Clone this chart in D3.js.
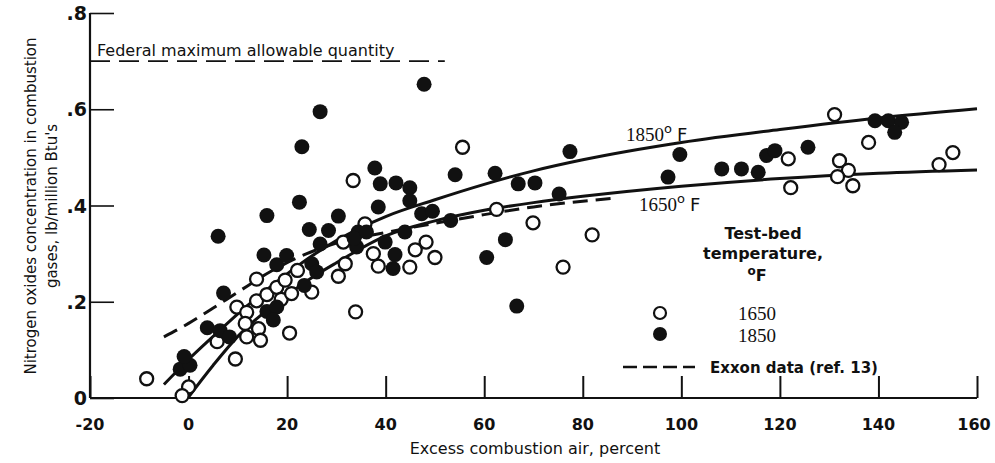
<!DOCTYPE html>
<html>
<head>
<meta charset="utf-8">
<script src="https://cdn.jsdelivr.net/npm/d3@7"></script>
<style>
  html, body { margin: 0; padding: 0; background: #fff; }
  svg { display: block; }
  text { font-family: "DejaVu Sans", "Liberation Sans", sans-serif; fill: #111; }
</style>
</head>
<body>
<svg id="chart" width="995" height="463"></svg>
<script>
// ---- data ----
const xTicks = [-20, 0, 20, 40, 60, 80, 100, 120, 140, 160];
const yTicks = [0, 0.2, 0.4, 0.6, 0.8];
const yTickLabels = ["0", ".2", ".4", ".6", ".8"];

// 1650 F test-bed temperature (open circles): [excess air %, lb/million Btu]
const open1650 = [
  [-8.5, 0.040], [0.0, 0.023], [-1.3, 0.005], [5.8, 0.117], [9.5, 0.081],
  [9.8, 0.189], [11.8, 0.178], [11.5, 0.155], [13.8, 0.202], [13.8, 0.247],
  [11.8, 0.127], [14.2, 0.144], [14.6, 0.120], [15.9, 0.215], [17.9, 0.230],
  [18.8, 0.205], [19.6, 0.245], [20.9, 0.217], [20.5, 0.135], [22.1, 0.265],
  [25.0, 0.220], [30.4, 0.253], [31.4, 0.324], [31.8, 0.279], [33.4, 0.452],
  [33.9, 0.179], [35.8, 0.362], [37.5, 0.300], [38.5, 0.274], [46.0, 0.308],
  [48.2, 0.324], [50.0, 0.292], [44.9, 0.272], [55.6, 0.521], [62.5, 0.392],
  [69.9, 0.364], [76.0, 0.272], [81.9, 0.339], [121.7, 0.497], [122.2, 0.437],
  [131.1, 0.589], [132.1, 0.493], [133.9, 0.473], [131.7, 0.460], [134.8, 0.441],
  [138.0, 0.531], [152.3, 0.485], [155.1, 0.510]
];

// 1850 F test-bed temperature (filled circles)
const filled1850 = [
  [-1.7, 0.060], [0.3, 0.068], [-0.9, 0.086], [3.8, 0.146], [6.4, 0.140],
  [8.3, 0.127], [6.0, 0.336], [7.1, 0.218], [15.3, 0.297], [15.9, 0.379],
  [17.9, 0.277], [19.9, 0.296], [22.5, 0.407], [23.0, 0.522], [26.7, 0.595],
  [24.5, 0.350], [28.4, 0.348], [26.7, 0.320], [25.0, 0.279], [26.0, 0.262],
  [23.5, 0.234], [15.9, 0.180], [17.9, 0.189], [17.2, 0.162], [30.4, 0.378],
  [34.4, 0.345], [34.1, 0.314], [33.6, 0.332], [36.1, 0.345], [37.8, 0.478],
  [38.9, 0.445], [38.5, 0.397], [42.1, 0.447], [44.9, 0.437], [44.9, 0.410],
  [47.3, 0.383], [49.5, 0.388], [47.8, 0.652], [39.9, 0.324], [43.9, 0.345],
  [41.9, 0.298], [41.5, 0.269], [53.2, 0.369], [54.1, 0.464], [60.5, 0.292],
  [62.2, 0.467], [64.3, 0.329], [66.6, 0.191], [66.9, 0.445], [70.3, 0.447],
  [75.2, 0.424], [77.4, 0.512], [97.3, 0.459], [99.7, 0.506], [108.2, 0.476],
  [112.2, 0.476], [115.6, 0.469], [117.3, 0.504], [119.0, 0.514], [125.7, 0.521],
  [139.3, 0.576], [142.0, 0.576], [144.7, 0.573], [143.3, 0.552]
];

// faired curves
const curve1850 = [
  [-5, 0.028], [0, 0.080], [5, 0.128], [10, 0.175], [15, 0.218], [20, 0.258],
  [25, 0.295], [30, 0.327], [40, 0.377], [50, 0.412], [60, 0.444], [70, 0.472],
  [80, 0.495], [100, 0.531], [120, 0.558], [140, 0.582], [160, 0.601]
];
const curve1650 = [
  [0, 0.002], [5, 0.068], [10, 0.128], [15, 0.175], [20, 0.214], [25, 0.250],
  [30, 0.281], [40, 0.337], [50, 0.368], [60, 0.390], [70, 0.406], [80, 0.419],
  [100, 0.440], [120, 0.456], [140, 0.467], [160, 0.474]
];
const exxon = [
  [-5, 0.127], [0, 0.155], [5, 0.187], [10, 0.220], [17, 0.265], [24, 0.300],
  [30, 0.322], [40, 0.344], [50, 0.363], [60, 0.381], [70, 0.397], [86, 0.415]
];
const federalLimit = 0.7;
const federalExtent = [-20, 52];

// ---- drawing ----
const svg = d3.select("#chart");
const x = d3.scaleLinear().domain([-20, 160]).range([90, 977]);
const y = d3.scaleLinear().domain([0, 0.8]).range([398, 13]);

const line = d3.line().x(d => x(d[0])).y(d => y(d[1])).curve(d3.curveMonotoneX);

// axes frame
const g = svg.append("g");
g.append("line").attr("x1", x(-20)).attr("x2", x(-20)).attr("y1", y(0.8)).attr("y2", y(0))
  .attr("stroke", "#111").attr("stroke-width", 2.2);
g.append("line").attr("x1", x(-20)).attr("x2", x(160)).attr("y1", y(0)).attr("y2", y(0))
  .attr("stroke", "#111").attr("stroke-width", 1.8);

// x axis (ticks pointing inward)
const xAxis = d3.axisTop(x).tickValues(xTicks).tickSize(22).tickFormat("");
const xg = svg.append("g").attr("transform", `translate(0,${y(0)})`).call(xAxis);
xg.select(".domain").remove();
xg.selectAll(".tick line").attr("stroke", "#111").attr("stroke-width", 2);
svg.append("g").selectAll("text").data(xTicks).join("text")
  .attr("x", d => x(d) - (d === 160 ? 3 : 0)).attr("y", 430)
  .attr("text-anchor", "middle")
  .style("font-size", "16px").style("font-weight", "bold")
  .text(d => d);

// y axis (ticks pointing inward)
const yAxis = d3.axisRight(y).tickValues(yTicks).tickSize(24).tickFormat("");
const yg = svg.append("g").attr("transform", `translate(${x(-20)},0)`).call(yAxis);
yg.select(".domain").remove();
yg.selectAll(".tick line").attr("stroke", "#111").attr("stroke-width", 1.6);
svg.append("g").selectAll("text").data(yTicks).join("text")
  .attr("x", 87).attr("y", d => y(d) + 7)
  .attr("text-anchor", "end")
  .style("font-size", "19px").style("font-weight", "bold")
  .text((d, i) => yTickLabels[i]);

// axis titles
svg.append("text")
  .attr("transform", "translate(36,206) rotate(-90)")
  .attr("text-anchor", "middle")
  .style("font-size", "15px")
  .text("Nitrogen oxides concentration in combustion");
svg.append("text")
  .attr("transform", "translate(57,206) rotate(-90)")
  .attr("text-anchor", "middle")
  .style("font-size", "15px")
  .text("gases, lb/million Btu's");
svg.append("text")
  .attr("x", 535).attr("y", 454)
  .attr("text-anchor", "middle")
  .style("font-size", "16px")
  .text("Excess combustion air, percent");

// federal limit
svg.append("line")
  .attr("x1", x(federalExtent[0])).attr("x2", x(federalExtent[1]))
  .attr("y1", y(federalLimit)).attr("y2", y(federalLimit))
  .attr("stroke", "#111").attr("stroke-width", 1.6).attr("stroke-dasharray", "20,9");
svg.append("text")
  .attr("x", 97).attr("y", y(federalLimit) - 5)
  .style("font-size", "16px")
  .text("Federal maximum allowable quantity");

// curves
svg.append("path").datum(exxon).attr("d", line)
  .attr("fill", "none").attr("stroke", "#111").attr("stroke-width", 3)
  .attr("stroke-dasharray", "15,8");
svg.append("path").datum(curve1850).attr("d", line)
  .attr("fill", "none").attr("stroke", "#111").attr("stroke-width", 3);
svg.append("path").datum(curve1650).attr("d", line)
  .attr("fill", "none").attr("stroke", "#111").attr("stroke-width", 3);

// points
svg.append("g").selectAll("circle").data(open1650).join("circle")
  .attr("cx", d => x(d[0])).attr("cy", d => y(d[1])).attr("r", 6.5)
  .attr("fill", "#fff").attr("stroke", "#111").attr("stroke-width", 2.3);
svg.append("g").selectAll("circle").data(filled1850).join("circle")
  .attr("cx", d => x(d[0])).attr("cy", d => y(d[1])).attr("r", 7.5)
  .attr("fill", "#111");

// curve labels
function tempLabel(xp, yp, num) {
  const t = svg.append("text").attr("x", xp).attr("y", yp)
    .style("font-family", "'Liberation Serif', serif").style("font-size", "19px");
  t.append("tspan").text(num);
  t.append("tspan").attr("dy", -8).style("font-size", "13px")
    .style("font-family", "'DejaVu Sans', sans-serif").text("o");
  t.append("tspan").attr("dy", 8).attr("dx", 5)
    .style("font-family", "'DejaVu Sans', sans-serif").style("font-size", "18px").text("F");
}
tempLabel(626, 141, "1850");
tempLabel(639, 211, "1650");

// legend
const lg = svg.append("g");
lg.append("text").attr("x", 763).attr("y", 239).attr("text-anchor", "middle")
  .style("font-size", "16px").style("font-weight", "bold").text("Test-bed");
lg.append("text").attr("x", 763).attr("y", 259).attr("text-anchor", "middle")
  .style("font-size", "16px").style("font-weight", "bold").text("temperature,");
const of = lg.append("text").attr("x", 757).attr("y", 281).attr("text-anchor", "middle")
  .style("font-size", "16px").style("font-weight", "bold");
of.append("tspan").attr("dy", -6).style("font-size", "12px").text("o");
of.append("tspan").attr("dy", 6).text("F");

lg.append("circle").attr("cx", 660).attr("cy", 313).attr("r", 6).attr("fill", "#fff")
  .attr("stroke", "#111").attr("stroke-width", 2.2);
lg.append("circle").attr("cx", 660).attr("cy", 334).attr("r", 7).attr("fill", "#111");
lg.append("text").attr("x", 738).attr("y", 320)
  .style("font-family", "'Liberation Serif', serif").style("font-size", "19px").text("1650");
lg.append("text").attr("x", 738).attr("y", 342)
  .style("font-family", "'Liberation Serif', serif").style("font-size", "19px").text("1850");
lg.append("line").attr("x1", 623).attr("x2", 695).attr("y1", 367).attr("y2", 367)
  .attr("stroke", "#111").attr("stroke-width", 2.5).attr("stroke-dasharray", "14,6");
lg.append("text").attr("x", 710).attr("y", 373)
  .style("font-size", "15px").style("font-weight", "bold").text("Exxon data (ref. 13)");
</script>
</body>
</html>
